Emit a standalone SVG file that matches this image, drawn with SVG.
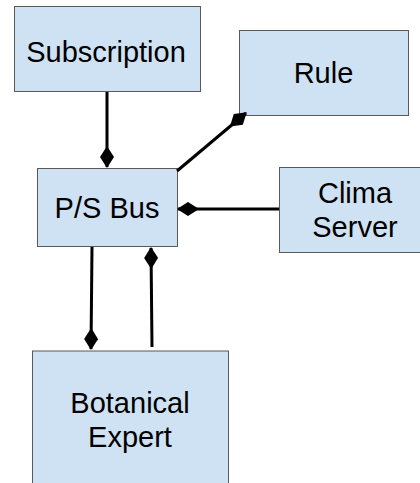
<svg xmlns="http://www.w3.org/2000/svg" width="420" height="483" viewBox="0 0 420 483">
  <style>
    .box { fill: #cfe2f3; stroke: #595959; stroke-width: 1; }
    .lbl { font-family: "Liberation Sans", Arial, sans-serif; font-size: 29px; fill: #000; text-anchor: middle; }
    .link { stroke: #000; stroke-width: 3; fill: none; }
  </style>
  <defs>
    <marker id="diamond" viewBox="0 0 22 14" refX="21" refY="7" markerWidth="22" markerHeight="14" markerUnits="userSpaceOnUse" orient="auto">
      <path d="M0,7 L11,0 L22,7 L11,14 Z" fill="#000"/>
    </marker>
  </defs>

  <g id="subscription">
    <rect class="box" x="14.5" y="6.5" width="186" height="85"/>
    <text class="lbl" x="106" y="62">Subscription</text>
  </g>
  <g id="rule">
    <rect class="box" x="239.5" y="30.5" width="169" height="85"/>
    <text class="lbl" x="323.5" y="83">Rule</text>
  </g>
  <g id="ps-bus">
    <rect class="box" x="37.5" y="168.5" width="140" height="78"/>
    <text class="lbl" x="107" y="218">P/S Bus</text>
  </g>
  <g id="clima-server">
    <rect class="box" x="279.5" y="167.5" width="152" height="85"/>
    <text class="lbl" x="355" y="203">Clima</text>
    <text class="lbl" x="355" y="237">Server</text>
  </g>
  <g id="botanical-expert">
    <rect class="box" x="32.5" y="351" width="196" height="140"/>
    <text class="lbl" x="130" y="413">Botanical</text>
    <text class="lbl" x="130" y="447">Expert</text>
  </g>

  <g id="connectors">
    <line class="link" x1="107" y1="92" x2="107" y2="167" marker-end="url(#diamond)"/>
    <line class="link" x1="177" y1="171" x2="246" y2="113" marker-end="url(#diamond)"/>
    <line class="link" x1="279" y1="209" x2="178" y2="209" marker-end="url(#diamond)"/>
    <line class="link" x1="92" y1="247" x2="91" y2="349" marker-end="url(#diamond)"/>
    <line class="link" x1="152" y1="347" x2="151" y2="248" marker-end="url(#diamond)"/>
  </g>
</svg>
